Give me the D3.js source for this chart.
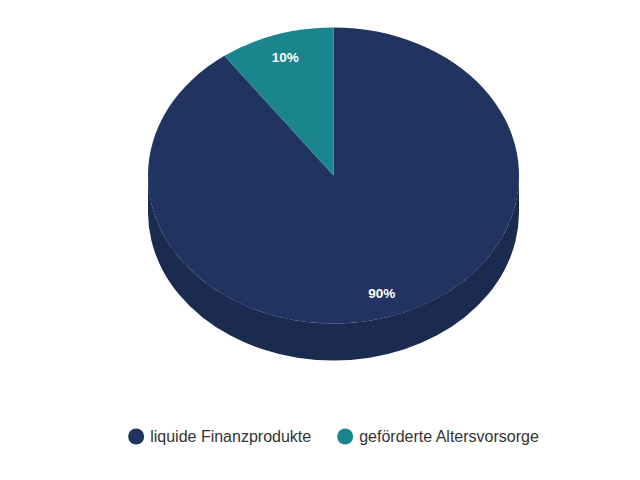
<!DOCTYPE html>
<html>
<head>
<meta charset="utf-8">
<script src="https://cdn.jsdelivr.net/npm/d3@7"></script>
<style>
  html, body { margin: 0; padding: 0; background: #fff; }
  svg { display: block; font-family: "Liberation Sans", Arial, sans-serif; }
</style>
</head>
<body>
<svg id="chart" width="640" height="480"></svg>
<script>
const categories = ["liquide Finanzprodukte", "geförderte Altersvorsorge"];
const values = [90, 10];
const labels = ["90%", "10%"];
const colors = ["#213360", "#1b858d"];
const sideColors = ["#1b2a4f", "#166f76"];

const svg = d3.select("#chart");
const W = 640, H = 480;
const cx = 333.5, cy = 175.5, rx = 185.5, ry = 148, depth = 37;

const pie = d3.pie().sort(null).value(d => d)(values);

const pt = (a, dy = 0) => [cx + rx * Math.sin(a), cy - ry * Math.cos(a) + dy];

// sides (only front half visible: angles between PI/2 and 3PI/2)
const sideG = svg.append("g");
pie.forEach((p, i) => {
  const s = Math.max(p.startAngle, Math.PI / 2);
  const e = Math.min(p.endAngle, 3 * Math.PI / 2);
  if (e <= s) return;
  const a = pt(s), b = pt(e), b2 = pt(e, depth), a2 = pt(s, depth);
  const large = (e - s) > Math.PI ? 1 : 0;
  const d = `M${a[0]},${a[1]} A${rx},${ry} 0 ${large} 1 ${b[0]},${b[1]} L${b2[0]},${b2[1]} A${rx},${ry} 0 ${large} 0 ${a2[0]},${a2[1]} Z`;
  sideG.append("path").attr("d", d).attr("fill", sideColors[i]);
});

// top faces
const arc = d3.arc().innerRadius(0).outerRadius(rx);
const topG = svg.append("g").attr("transform", `translate(${cx},${cy}) scale(1,${ry / rx})`);
topG.selectAll("path").data(pie).join("path")
  .attr("d", arc)
  .attr("fill", (d, i) => colors[i]);

// labels
const lf = 0.84;
svg.append("g").selectAll("text").data(pie).join("text")
  .attr("x", d => cx + rx * lf * Math.sin((d.startAngle + d.endAngle) / 2))
  .attr("y", d => cy - ry * lf * Math.cos((d.startAngle + d.endAngle) / 2))
  .attr("text-anchor", "middle")
  .attr("dominant-baseline", "central")
  .attr("fill", "#fff")
  .attr("font-size", "13.5px")
  .attr("font-weight", "bold")
  .text((d, i) => labels[i]);

// legend
const legend = svg.append("g");
const ly = 436.5, r = 8, gapCT = 6, gapItems = 26;
const items = legend.selectAll("g").data(categories).join("g");
items.append("circle").attr("r", r).attr("cy", ly).attr("fill", (d, i) => colors[i]);
items.append("text").attr("y", ly).attr("dominant-baseline", "central")
  .attr("font-size", "16px").attr("fill", "#333").text(d => d);
let widths = [];
items.each(function () { widths.push(d3.select(this).select("text").node().getComputedTextLength()); });
const total = widths.reduce((s, w) => s + 2 * r + gapCT + w, 0) + gapItems * (widths.length - 1);
let x = 333.5 - total / 2;
items.each(function (d, i) {
  const g = d3.select(this);
  g.select("circle").attr("cx", x + r);
  g.select("text").attr("x", x + 2 * r + gapCT);
  x += 2 * r + gapCT + widths[i] + gapItems;
});
</script>
</body>
</html>
